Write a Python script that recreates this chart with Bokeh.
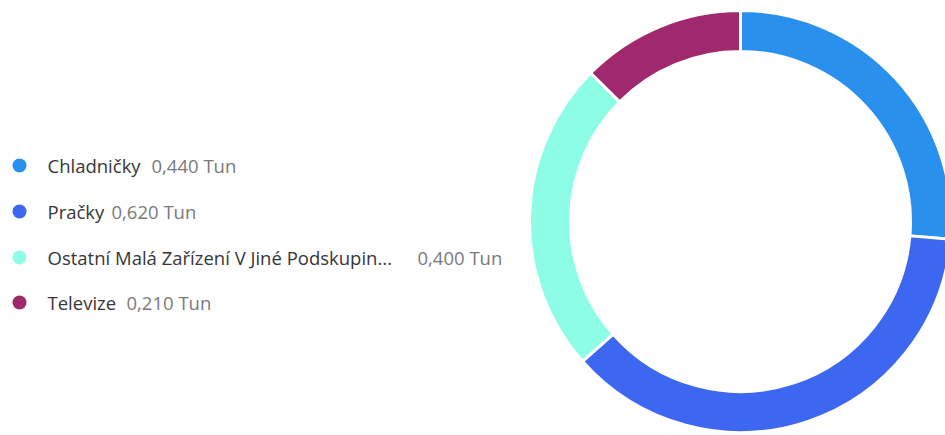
import numpy as np
from bokeh.plotting import figure
from bokeh.models import ColumnDataSource
from bokeh.core.properties import value
from bokeh.embed import file_html
from bokeh.resources import INLINE

categories = ["Chladničky", "Pračky", "Ostatní Malá Zařízení V Jiné Podskupin...", "Televize"]
values = [0.440, 0.620, 0.400, 0.210]
value_labels = ["0,440 Tun", "0,620 Tun", "0,400 Tun", "0,210 Tun"]
colors = ["#2A90EE", "#3D67F0", "#8DFDE6", "#A0296E"]

W, H = 945, 435
p = figure(width=W, height=H, x_range=(0, W), y_range=(0, H),
           output_backend="svg", toolbar_location=None, min_border=0,
           outline_line_color=None)
p.axis.visible = False
p.grid.visible = False
p.background_fill_color = "white"
p.border_fill_color = "white"

def py(page_y):
    return H - page_y

def px(page_x):
    return page_x

vals = np.array(values)
frac = vals / vals.sum()
ends = np.pi / 2 - 2 * np.pi * np.cumsum(frac)
starts = np.concatenate([[np.pi / 2], ends[:-1]])

src = ColumnDataSource(dict(start=starts, end=ends, color=colors))
p.annular_wedge(x=px(740), y=py(221), inner_radius=170, outer_radius=211,
                inner_radius_units="screen", outer_radius_units="screen",
                start_angle="start", end_angle="end", direction="clock",
                fill_color="color", line_color="white", line_width=3, source=src)

rows_y = [165, 211, 257, 302]
value_x = [151, 111, 417, 126]
ys = [py(y) for y in rows_y]
leg = ColumnDataSource(dict(y=ys, color=colors, label=categories, val=value_labels,
                            vx=[px(x) for x in value_x]))
p.scatter(x=px(19), y="y", size=14, marker="circle", fill_color="color",
          line_color=None, source=leg)
p.text(x=px(47), y="y", text="label", text_font=value("Open Sans"),
       text_font_size="18.5px", text_color="#363636", text_baseline="middle",
       source=leg)
p.text(x="vx", y="y", text="val", text_font=value("Open Sans"),
       text_font_size="18.5px", text_color="#7a7a7a", text_baseline="middle",
       source=leg)

open("out.html", "w").write(file_html(p, INLINE))
